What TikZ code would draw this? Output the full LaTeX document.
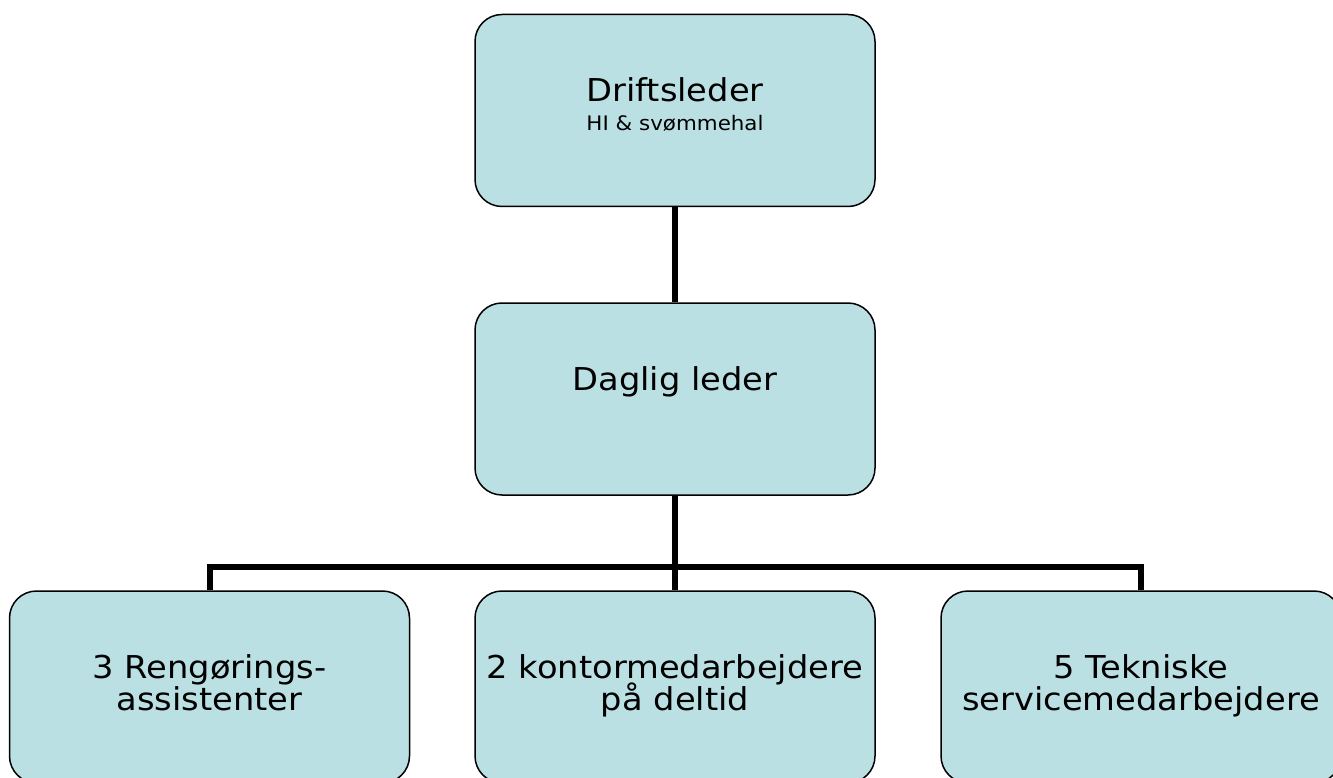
\documentclass[tikz,border=0pt]{standalone}
\usepackage{fontspec}
\setmainfont{DejaVu Sans}[FakeStretch=1.07]
\definecolor{boxfill}{HTML}{BBE0E3}
\begin{document}
\begin{tikzpicture}[x=1pt,y=-1pt,
  orgbox/.style={draw=black, line width=1.5pt, fill=boxfill, rounded corners=27pt,
    minimum width=400pt, minimum height=192pt, inner sep=0pt},
  orgtxt/.style={align=center, font=\fontsize{31.5}{36}\selectfont, inner sep=0pt},
  conn/.style={draw=black, line width=6pt}]
\useasboundingbox (0,0) rectangle (1333,778);
\clip (0,0) rectangle (1333,778);
\node[orgbox] (top) at (675,110.5) {};
\node[orgbox] (mid) at (675,399) {};
\node[orgbox] (b1) at (209.5,687) {};
\node[orgbox] (b2) at (675,687) {};
\node[orgbox] (b3) at (1141,687) {};
\coordinate (bus) at (675,567);
\draw[conn] (top.south) -- (mid.north);
\draw[conn] (mid.south) -- (b2.north);
\draw[conn] (b1.north) |- (bus) -| (b3.north);
\node[orgtxt, anchor=base] (toptxt) at (675,102) {Driftsleder};
\node[anchor=base, inner sep=0pt, font=\fontsize{20}{24}\selectfont] (topsub) at (675,131) {HI \& svømmehal};
\node[orgtxt, anchor=base] (midtxt) at (675,390) {Daglig leder};
\node[orgtxt, anchor=base] (b1a) at (209.5,678) {3 Rengørings-};
\node[orgtxt, anchor=base] (b1b) at (209.5,710) {assistenter};
\node[orgtxt, anchor=base] (b2a) at (675,678) {2 kontormedarbejdere};
\node[orgtxt, anchor=base] (b2b) at (675,710) {på deltid};
\node[orgtxt, anchor=base] (b3a) at (1141,678) {5 Tekniske};
\node[orgtxt, anchor=base] (b3b) at (1141,710) {servicemedarbejdere};
\end{tikzpicture}
\end{document}
